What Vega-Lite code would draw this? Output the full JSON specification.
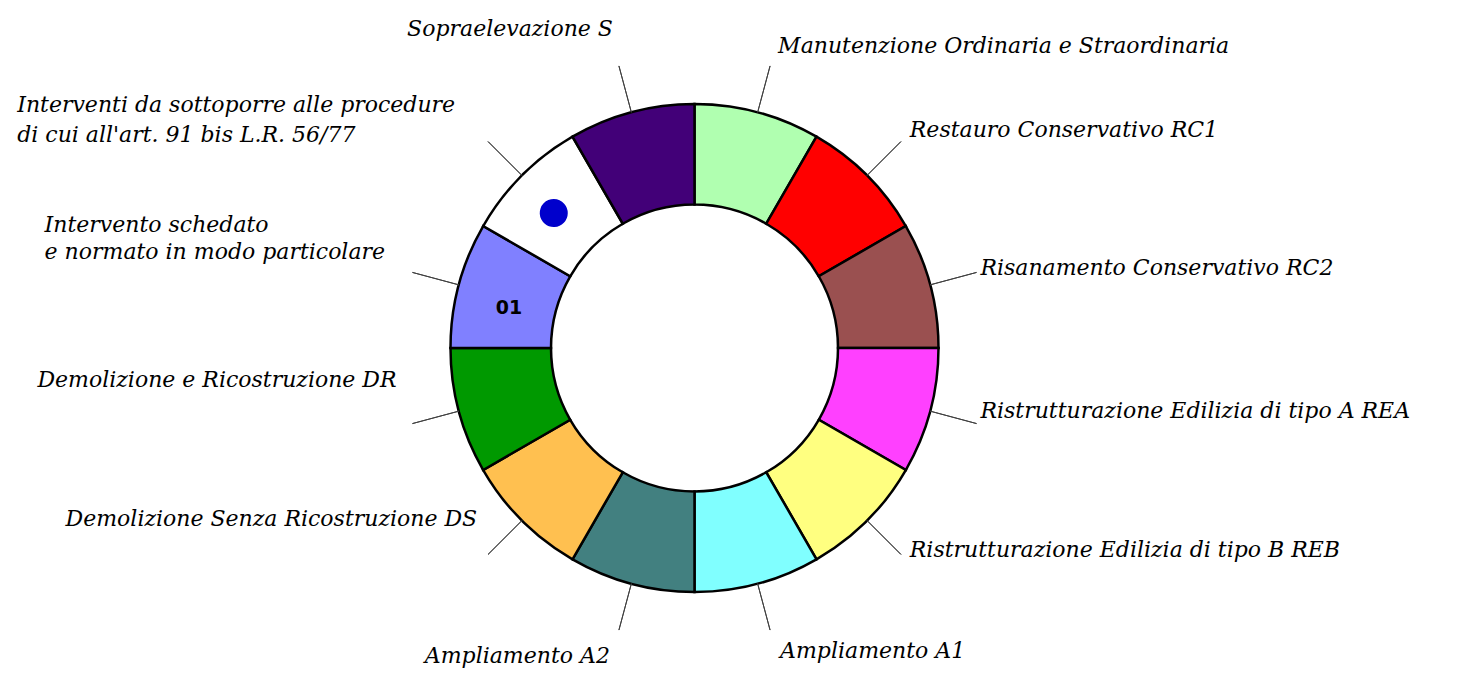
{
  "$schema": "https://vega.github.io/schema/vega-lite/v6.json",
  "width": 1389,
  "height": 688,
  "autosize": {"type": "none"},
  "padding": {"left": 0, "top": 4, "right": 89, "bottom": 0},
  "background": "white",
  "config": {
    "view": {"stroke": null},
    "text": {"font": "DejaVu Serif", "fontStyle": "italic", "fontSize": 22, "fill": "black"}
  },
  "data": {
    "values": [
      {"n": 1, "categoria": "Manutenzione Ordinaria e Straordinaria", "etichetta": "Manutenzione Ordinaria e Straordinaria", "inizio": 0, "fine": 30, "centro": 15, "codice": null, "segnalato": false},
      {"n": 2, "categoria": "Restauro Conservativo RC1", "etichetta": "Restauro Conservativo RC1", "inizio": 30, "fine": 60, "centro": 45, "codice": null, "segnalato": false},
      {"n": 3, "categoria": "Risanamento Conservativo RC2", "etichetta": "Risanamento Conservativo RC2", "inizio": 60, "fine": 90, "centro": 75, "codice": null, "segnalato": false},
      {"n": 4, "categoria": "Ristrutturazione Edilizia di tipo A REA", "etichetta": "Ristrutturazione Edilizia di tipo A REA", "inizio": 90, "fine": 120, "centro": 105, "codice": null, "segnalato": false},
      {"n": 5, "categoria": "Ristrutturazione Edilizia di tipo B REB", "etichetta": "Ristrutturazione Edilizia di tipo B REB", "inizio": 120, "fine": 150, "centro": 135, "codice": null, "segnalato": false},
      {"n": 6, "categoria": "Ampliamento A1", "etichetta": "Ampliamento A1", "inizio": 150, "fine": 180, "centro": 165, "codice": null, "segnalato": false},
      {"n": 7, "categoria": "Ampliamento A2", "etichetta": "Ampliamento A2", "inizio": 180, "fine": 210, "centro": 195, "codice": null, "segnalato": false},
      {"n": 8, "categoria": "Demolizione Senza Ricostruzione DS", "etichetta": "Demolizione Senza Ricostruzione DS", "inizio": 210, "fine": 240, "centro": 225, "codice": null, "segnalato": false},
      {"n": 9, "categoria": "Demolizione e Ricostruzione DR", "etichetta": "Demolizione e Ricostruzione DR", "inizio": 240, "fine": 270, "centro": 255, "codice": null, "segnalato": false},
      {"n": 10, "categoria": "Intervento schedato e normato in modo particolare", "etichetta": ["Intervento schedato", "e normato in modo particolare"], "inizio": 270, "fine": 300, "centro": 285, "codice": "01", "segnalato": false},
      {"n": 11, "categoria": "Interventi da sottoporre alle procedure di cui all'art. 91 bis L.R. 56/77", "etichetta": ["Interventi da sottoporre alle procedure", "di cui all'art. 91 bis L.R. 56/77"], "inizio": 300, "fine": 330, "centro": 315, "codice": null, "segnalato": true},
      {"n": 12, "categoria": "Sopraelevazione S", "etichetta": "Sopraelevazione S", "inizio": 330, "fine": 360, "centro": 345, "codice": null, "segnalato": false}
    ]
  },
  "layer": [
    {
      "mark": {"type": "arc", "radius": 244, "radius2": 143.5, "stroke": "black", "strokeWidth": 2.5},
      "encoding": {
        "theta": {"field": "inizio", "type": "quantitative", "scale": {"domain": [0, 360]}, "stack": null},
        "theta2": {"field": "fine"},
        "color": {
          "field": "categoria", "type": "nominal", "legend": null,
          "scale": {
            "domain": ["Manutenzione Ordinaria e Straordinaria", "Restauro Conservativo RC1", "Risanamento Conservativo RC2", "Ristrutturazione Edilizia di tipo A REA", "Ristrutturazione Edilizia di tipo B REB", "Ampliamento A1", "Ampliamento A2", "Demolizione Senza Ricostruzione DS", "Demolizione e Ricostruzione DR", "Intervento schedato e normato in modo particolare", "Interventi da sottoporre alle procedure di cui all'art. 91 bis L.R. 56/77", "Sopraelevazione S"],
            "range": ["#b0ffb0", "#ff0000", "#9a5050", "#ff40ff", "#ffff80", "#80ffff", "#428080", "#ffc050", "#009900", "#8080ff", "#ffffff", "#420078"]
          }
        }
      }
    },
    {
      "mark": {"type": "arc", "radius": 292, "radius2": 244, "stroke": "#404040", "strokeWidth": 1, "fillOpacity": 0},
      "encoding": {
        "theta": {"field": "centro", "type": "quantitative", "scale": {"domain": [0, 360]}, "stack": null},
        "theta2": {"field": "centro"}
      }
    },
    {
      "transform": [{"filter": "datum.segnalato"}],
      "mark": {"type": "arc", "radius": 209, "radius2": 181, "cornerRadius": 14, "fill": "#0000cc", "thetaOffset": -0.093, "theta2Offset": 0.051},
      "encoding": {
        "theta": {"field": "centro", "type": "quantitative", "scale": {"domain": [0, 360]}, "stack": null},
        "theta2": {"field": "centro"}
      }
    },
    {
      "transform": [{"filter": "datum.codice != null"}],
      "mark": {"type": "text", "radius": 192, "align": "center", "baseline": "middle", "dy": 10, "font": "DejaVu Sans", "fontStyle": "normal", "fontWeight": "bold", "fontSize": 19},
      "encoding": {
        "theta": {"field": "centro", "type": "quantitative", "scale": {"domain": [0, 360]}, "stack": null},
        "text": {"field": "codice"}
      }
    },
    {"transform": [{"filter": "datum.n == 1"}], "mark": {"type": "text", "radius": 296, "align": "left", "baseline": "alphabetic", "dx": 7, "dy": -9},
     "encoding": {"theta": {"field": "centro", "type": "quantitative", "scale": {"domain": [0, 360]}, "stack": null}, "text": {"field": "etichetta"}}},
    {"transform": [{"filter": "datum.n == 2"}], "mark": {"type": "text", "radius": 296, "align": "left", "baseline": "alphabetic", "dx": 6, "dy": -2},
     "encoding": {"theta": {"field": "centro", "type": "quantitative", "scale": {"domain": [0, 360]}, "stack": null}, "text": {"field": "etichetta"}}},
    {"transform": [{"filter": "datum.n == 3"}], "mark": {"type": "text", "radius": 296, "align": "left", "baseline": "alphabetic", "dx": 0, "dy": 4},
     "encoding": {"theta": {"field": "centro", "type": "quantitative", "scale": {"domain": [0, 360]}, "stack": null}, "text": {"field": "etichetta"}}},
    {"transform": [{"filter": "datum.n == 4"}], "mark": {"type": "text", "radius": 296, "align": "left", "baseline": "alphabetic", "dx": 0, "dy": -7},
     "encoding": {"theta": {"field": "centro", "type": "quantitative", "scale": {"domain": [0, 360]}, "stack": null}, "text": {"field": "etichetta"}}},
    {"transform": [{"filter": "datum.n == 5"}], "mark": {"type": "text", "radius": 296, "align": "left", "baseline": "alphabetic", "dx": 6, "dy": 0},
     "encoding": {"theta": {"field": "centro", "type": "quantitative", "scale": {"domain": [0, 360]}, "stack": null}, "text": {"field": "etichetta"}}},
    {"transform": [{"filter": "datum.n == 6"}], "mark": {"type": "text", "radius": 296, "align": "left", "baseline": "alphabetic", "dx": 9, "dy": 24},
     "encoding": {"theta": {"field": "centro", "type": "quantitative", "scale": {"domain": [0, 360]}, "stack": null}, "text": {"field": "etichetta"}}},
    {"transform": [{"filter": "datum.n == 7"}], "mark": {"type": "text", "radius": 296, "align": "right", "baseline": "alphabetic", "dx": -8, "dy": 29},
     "encoding": {"theta": {"field": "centro", "type": "quantitative", "scale": {"domain": [0, 360]}, "stack": null}, "text": {"field": "etichetta"}}},
    {"transform": [{"filter": "datum.n == 8"}], "mark": {"type": "text", "radius": 296, "align": "right", "baseline": "alphabetic", "dx": -8, "dy": -31},
     "encoding": {"theta": {"field": "centro", "type": "quantitative", "scale": {"domain": [0, 360]}, "stack": null}, "text": {"field": "etichetta"}}},
    {"transform": [{"filter": "datum.n == 9"}], "mark": {"type": "text", "radius": 296, "align": "right", "baseline": "alphabetic", "dx": -12, "dy": -38},
     "encoding": {"theta": {"field": "centro", "type": "quantitative", "scale": {"domain": [0, 360]}, "stack": null}, "text": {"field": "etichetta"}}},
    {"transform": [{"filter": "datum.n == 10"}], "mark": {"type": "text", "radius": 296, "align": "left", "baseline": "alphabetic", "dx": -364, "dy": -39, "lineHeight": 27},
     "encoding": {"theta": {"field": "centro", "type": "quantitative", "scale": {"domain": [0, 360]}, "stack": null}, "text": {"field": "etichetta"}}},
    {"transform": [{"filter": "datum.n == 11"}], "mark": {"type": "text", "radius": 296, "align": "left", "baseline": "alphabetic", "dx": -468, "dy": -27, "lineHeight": 30},
     "encoding": {"theta": {"field": "centro", "type": "quantitative", "scale": {"domain": [0, 360]}, "stack": null}, "text": {"field": "etichetta"}}},
    {"transform": [{"filter": "datum.n == 12"}], "mark": {"type": "text", "radius": 296, "align": "right", "baseline": "alphabetic", "dx": -5, "dy": -26},
     "encoding": {"theta": {"field": "centro", "type": "quantitative", "scale": {"domain": [0, 360]}, "stack": null}, "text": {"field": "etichetta"}}}
  ]
}
